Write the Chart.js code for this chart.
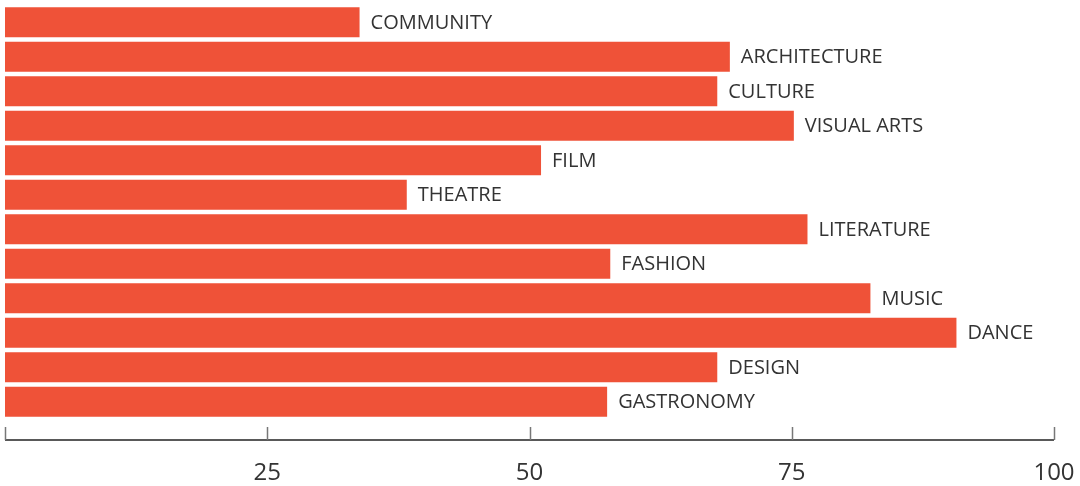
<!DOCTYPE html>
<html>
<head>
<meta charset="utf-8">
<script src="https://cdn.jsdelivr.net/npm/chart.js@4"></script>
<style>
  html, body { margin: 0; padding: 0; background: #fff; }
  #wrap { width: 1080px; height: 486px; }
</style>
</head>
<body>
<div id="wrap"><canvas id="bars"></canvas></div>
<script>
const categories = [
    'COMMUNITY',
    'ARCHITECTURE',
    'CULTURE',
    'VISUAL ARTS',
    'FILM',
    'THEATRE',
    'LITERATURE',
    'FASHION',
    'MUSIC',
    'DANCE',
    'DESIGN',
    'GASTRONOMY',
];
const values = [33.8, 69.1, 67.9, 75.2, 51.1, 38.3, 76.5, 57.7, 82.5, 90.7, 67.9, 57.4];
const tickValues = [0, 25, 50, 75, 100];
const tickLabels = ['', '25', '50', '75', '100'];

// labels to the right of each bar
const barLabels = {
    id: 'barLabels',
    afterDatasetsDraw(chart) {
        const ctx = chart.ctx;
        const meta = chart.getDatasetMeta(0);
        ctx.save();
        ctx.font = '20px "Open Sans"';
        ctx.fillStyle = '#333333';
        ctx.textAlign = 'left';
        ctx.textBaseline = 'middle';
        meta.data.forEach((bar, i) => {
            ctx.fillText(categories[i], bar.x + 11, bar.y + 1);
        });
        ctx.restore();
    }
}

// axis line with ticks pointing up
const axisLine = {
    id: 'axisLine',
    afterDraw(chart) {
        const ctx = chart.ctx;
        const x = chart.scales.x;
        const y0 = chart.chartArea.bottom + 21;
        ctx.save();
        ctx.strokeStyle = '#222222';
        ctx.lineWidth = 1.5;
        ctx.beginPath();
        ctx.moveTo(x.getPixelForValue(0), y0);
        ctx.lineTo(x.getPixelForValue(100), y0);
        ctx.stroke();
        ctx.strokeStyle = '#777777';
        ctx.lineWidth = 1.5;
        tickValues.forEach(v => {
            const px = Math.round(x.getPixelForValue(v)) + 0.5;
            ctx.beginPath();
            ctx.moveTo(px, y0);
            ctx.lineTo(px, y0 - 13);
            ctx.stroke();
        });
        ctx.restore();
    }
}

const data = {
    labels: categories,
    datasets: [{
        data: values,
        backgroundColor: '#EF5238',
        borderWidth: 0,
        categoryPercentage: 1,
        barPercentage: 0.87
    }]
}

const config = {
    type: 'bar',
    data: data,
    options: {
        indexAxis: 'y',
        responsive: true,
        maintainAspectRatio: false,
        animation: false,
        layout: {
            autoPadding: false,
            padding: { top: 5, left: 5, right: 26, bottom: 0 }
        },
        scales: {
            x: {
                min: 0,
                max: 100,
                afterBuildTicks: (scale) => {
                    scale.ticks = tickValues.map(v => ({ value: v }));
                },
                afterFit: (scale) => {
                    scale.height = 67;
                    scale.paddingLeft = 0;
                    scale.paddingRight = 0;
                },
                grid: { display: false, drawTicks: false },
                border: { display: false },
                ticks: {
                    padding: 40,
                    color: '#333333',
                    font: { family: 'Open Sans', size: 24 },
                    maxRotation: 0,
                    callback: function (value, index) {
                        return tickLabels[index];
                    }
                }
            },
            y: {
                display: false
            }
        },
        plugins: {
            legend: { display: false },
            tooltip: { enabled: false }
        }
    },
    plugins: [barLabels, axisLine]
}

const chart = new Chart(
    document.getElementById('bars'),
    config
)
</script>
</body>
</html>
